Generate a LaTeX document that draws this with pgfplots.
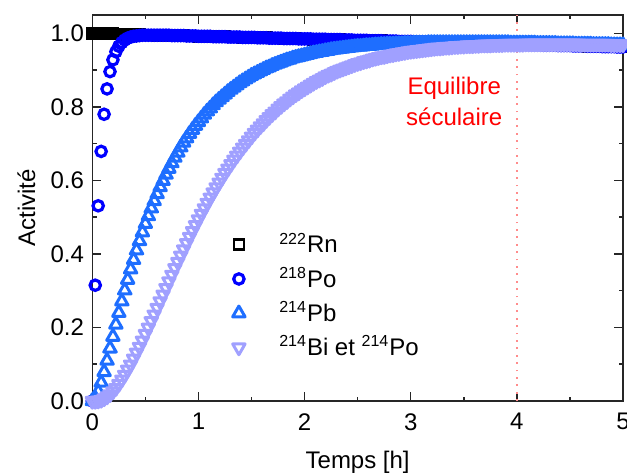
\documentclass[border=0pt]{standalone}
\usepackage{fontspec}
\setmainfont{Liberation Sans}
\usepackage{pgfplots}
\pgfplotsset{compat=1.18}
\usepackage{pgfplotstable}
\definecolor{pocol}{RGB}{0,0,255}
\definecolor{pbcol}{RGB}{30,110,255}
\definecolor{bicol}{RGB}{160,160,255}
\definecolor{eqred}{RGB}{255,0,0}
\pgfplotstableread{
t rn po pb bi
0 1.000 0.000 0.000 0.000
0.0278 1.000 0.315 0.007 0.000
0.0556 1.000 0.531 0.025 0.001
0.0833 0.999 0.679 0.050 0.003
0.1111 0.999 0.780 0.079 0.007
0.1389 0.999 0.849 0.110 0.012
0.1667 0.999 0.896 0.143 0.018
0.1944 0.999 0.928 0.175 0.026
0.2222 0.998 0.950 0.208 0.035
0.2500 0.998 0.965 0.240 0.046
0.2778 0.998 0.975 0.271 0.058
0.3056 0.998 0.982 0.301 0.071
0.3333 0.997 0.987 0.330 0.085
0.3611 0.997 0.990 0.358 0.099
0.3889 0.997 0.992 0.384 0.115
0.4167 0.997 0.993 0.410 0.131
0.4444 0.997 0.994 0.435 0.147
0.4722 0.996 0.995 0.459 0.164
0.5000 0.996 0.995 0.482 0.182
0.5278 0.996 0.995 0.503 0.199
0.5556 0.996 0.995 0.524 0.217
0.5833 0.996 0.995 0.544 0.235
0.6111 0.995 0.995 0.563 0.253
0.6389 0.995 0.995 0.582 0.271
0.6667 0.995 0.995 0.599 0.289
0.6944 0.995 0.995 0.616 0.307
0.7222 0.995 0.995 0.632 0.325
0.7500 0.994 0.994 0.647 0.343
0.7778 0.994 0.994 0.662 0.361
0.8056 0.994 0.994 0.676 0.378
0.8333 0.994 0.994 0.690 0.395
0.8611 0.994 0.994 0.703 0.412
0.8889 0.993 0.993 0.715 0.429
0.9167 0.993 0.993 0.727 0.446
0.9444 0.993 0.993 0.738 0.462
0.9722 0.993 0.993 0.749 0.478
1.0000 0.992 0.992 0.759 0.494
1.0278 0.992 0.992 0.769 0.509
1.0556 0.992 0.992 0.779 0.524
1.0833 0.992 0.992 0.788 0.539
1.1111 0.992 0.992 0.796 0.553
1.1389 0.991 0.991 0.805 0.567
1.1667 0.991 0.991 0.813 0.581
1.1944 0.991 0.991 0.820 0.594
1.2222 0.991 0.991 0.827 0.607
1.2500 0.991 0.991 0.834 0.620
1.2778 0.990 0.990 0.841 0.632
1.3056 0.990 0.990 0.847 0.644
1.3333 0.990 0.990 0.853 0.656
1.3611 0.990 0.990 0.859 0.667
1.3889 0.990 0.990 0.865 0.678
1.4167 0.989 0.989 0.870 0.689
1.4444 0.989 0.989 0.875 0.699
1.4722 0.989 0.989 0.880 0.709
1.5000 0.989 0.989 0.885 0.719
1.5278 0.989 0.989 0.889 0.729
1.5556 0.988 0.988 0.893 0.738
1.5833 0.988 0.988 0.897 0.747
1.6111 0.988 0.988 0.901 0.755
1.6389 0.988 0.988 0.905 0.764
1.6667 0.987 0.987 0.908 0.772
1.6944 0.987 0.987 0.912 0.780
1.7222 0.987 0.987 0.915 0.787
1.7500 0.987 0.987 0.918 0.795
1.7778 0.987 0.987 0.921 0.802
1.8056 0.986 0.986 0.924 0.809
1.8333 0.986 0.986 0.927 0.815
1.8611 0.986 0.986 0.929 0.822
1.8889 0.986 0.986 0.932 0.828
1.9167 0.986 0.986 0.934 0.834
1.9444 0.985 0.985 0.936 0.839
1.9722 0.985 0.985 0.938 0.845
2.0000 0.985 0.985 0.940 0.850
2.0278 0.985 0.985 0.942 0.855
2.0556 0.985 0.985 0.944 0.860
2.0833 0.984 0.984 0.946 0.865
2.1111 0.984 0.984 0.947 0.870
2.1389 0.984 0.984 0.949 0.874
2.1667 0.984 0.984 0.950 0.878
2.1944 0.984 0.984 0.952 0.883
2.2222 0.983 0.983 0.953 0.887
2.2500 0.983 0.983 0.955 0.890
2.2778 0.983 0.983 0.956 0.894
2.3056 0.983 0.983 0.957 0.898
2.3333 0.983 0.983 0.958 0.901
2.3611 0.982 0.982 0.959 0.904
2.3889 0.982 0.982 0.960 0.907
2.4167 0.982 0.982 0.961 0.910
2.4444 0.982 0.982 0.962 0.913
2.4722 0.981 0.981 0.963 0.916
2.5000 0.981 0.981 0.964 0.919
2.5278 0.981 0.981 0.964 0.921
2.5556 0.981 0.981 0.965 0.924
2.5833 0.981 0.981 0.966 0.926
2.6111 0.980 0.980 0.966 0.928
2.6389 0.980 0.980 0.967 0.931
2.6667 0.980 0.980 0.968 0.933
2.6944 0.980 0.980 0.968 0.935
2.7222 0.980 0.980 0.969 0.937
2.7500 0.979 0.979 0.969 0.938
2.7778 0.979 0.979 0.970 0.940
2.8056 0.979 0.979 0.970 0.942
2.8333 0.979 0.979 0.970 0.943
2.8611 0.979 0.979 0.971 0.945
2.8889 0.978 0.978 0.971 0.946
2.9167 0.978 0.978 0.971 0.948
2.9444 0.978 0.978 0.972 0.949
2.9722 0.978 0.978 0.972 0.951
3.0000 0.978 0.978 0.972 0.952
3.0278 0.977 0.977 0.973 0.953
3.0556 0.977 0.977 0.973 0.954
3.0833 0.977 0.977 0.973 0.955
3.1111 0.977 0.977 0.973 0.956
3.1389 0.977 0.977 0.973 0.957
3.1667 0.976 0.976 0.974 0.958
3.1944 0.976 0.976 0.974 0.959
3.2222 0.976 0.976 0.974 0.960
3.2500 0.976 0.976 0.974 0.961
3.2778 0.976 0.976 0.974 0.961
3.3056 0.975 0.975 0.974 0.962
3.3333 0.975 0.975 0.974 0.963
3.3611 0.975 0.975 0.974 0.963
3.3889 0.975 0.975 0.974 0.964
3.4167 0.975 0.975 0.974 0.965
3.4444 0.974 0.974 0.974 0.965
3.4722 0.974 0.974 0.974 0.966
3.5000 0.974 0.974 0.974 0.966
3.5278 0.974 0.974 0.974 0.967
3.5556 0.973 0.973 0.974 0.967
3.5833 0.973 0.973 0.974 0.967
3.6111 0.973 0.973 0.974 0.968
3.6389 0.973 0.973 0.974 0.968
3.6667 0.973 0.973 0.974 0.969
3.6944 0.972 0.972 0.974 0.969
3.7222 0.972 0.972 0.974 0.969
3.7500 0.972 0.972 0.974 0.969
3.7778 0.972 0.972 0.974 0.970
3.8056 0.972 0.972 0.974 0.970
3.8333 0.971 0.971 0.974 0.970
3.8611 0.971 0.971 0.974 0.970
3.8889 0.971 0.971 0.974 0.971
3.9167 0.971 0.971 0.974 0.971
3.9444 0.971 0.971 0.973 0.971
3.9722 0.970 0.970 0.973 0.971
4.0000 0.970 0.970 0.973 0.971
4.0278 0.970 0.970 0.973 0.971
4.0556 0.970 0.970 0.973 0.971
4.0833 0.970 0.970 0.973 0.972
4.1111 0.969 0.969 0.973 0.972
4.1389 0.969 0.969 0.973 0.972
4.1667 0.969 0.969 0.973 0.972
4.1944 0.969 0.969 0.972 0.972
4.2222 0.969 0.969 0.972 0.972
4.2500 0.968 0.968 0.972 0.972
4.2778 0.968 0.968 0.972 0.972
4.3056 0.968 0.968 0.972 0.972
4.3333 0.968 0.968 0.972 0.972
4.3611 0.968 0.968 0.972 0.972
4.3889 0.967 0.967 0.971 0.972
4.4167 0.967 0.967 0.971 0.972
4.4444 0.967 0.967 0.971 0.972
4.4722 0.967 0.967 0.971 0.972
4.5000 0.967 0.967 0.971 0.972
4.5278 0.966 0.966 0.971 0.972
4.5556 0.966 0.966 0.970 0.972
4.5833 0.966 0.966 0.970 0.972
4.6111 0.966 0.966 0.970 0.971
4.6389 0.966 0.966 0.970 0.971
4.6667 0.965 0.965 0.970 0.971
4.6944 0.965 0.965 0.970 0.971
4.7222 0.965 0.965 0.969 0.971
4.7500 0.965 0.965 0.969 0.971
4.7778 0.965 0.965 0.969 0.971
4.8056 0.964 0.964 0.969 0.971
4.8333 0.964 0.964 0.969 0.971
4.8611 0.964 0.964 0.969 0.971
4.8889 0.964 0.964 0.968 0.970
4.9167 0.964 0.964 0.968 0.970
4.9444 0.963 0.963 0.968 0.970
4.9722 0.963 0.963 0.968 0.970
5.0000 0.963 0.963 0.968 0.970
}\decaydata

\begin{document}
\fontsize{12}{14.4}\selectfont
\begin{tikzpicture}
\begin{axis}[
  name=ax,
  scale only axis,
  width=265.35pt, height=193pt,
  xmin=0, xmax=5, ymin=0, ymax=1.05,
  xtick={0,1,2,3,4,5}, minor x tick num=1,
  ytick={0,0.2,0.4,0.6,0.8,1.0}, minor y tick num=1,
  tick align=inside,
  major tick length=4.5pt, minor tick length=2.2pt,
  axis line style={line width=0.75pt, black!85},
  every tick/.style={line width=0.75pt, black!85},
  /pgf/number format/assume math mode=true,
  yticklabel style={/pgf/number format/.cd, fixed, fixed zerofill, precision=1},
  xticklabel style={yshift=-2pt},
  xlabel={Temps [h]}, ylabel={Activité},
  xlabel style={at={(axis description cs:0.5,-0.158)}, anchor=center},
  ylabel style={at={(axis description cs:-0.124,0.5)}, anchor=center},
  legend style={draw=none, fill=none, at={(axis cs:1.16,0.48)}, anchor=north west,
    row sep=1.4pt},
  legend cell align=left,
  legend image code/.code={\path[draw=none,fill=none] (0cm,0cm) -- (0.94cm,0cm); \draw[#1, only marks] plot coordinates {(0.3cm,0cm)};},
]
\draw[eqred!45, line width=1pt, dash pattern=on 0.9pt off 2.8pt] (axis cs:4,0) -- (axis cs:4,1.05);
\addplot[only marks, black, mark=square, mark size=2.5pt, mark options={line width=1.3pt}] table[x=t, y=rn] {\decaydata};
\addlegendentry{\textsuperscript{222}Rn}
\addplot[only marks, pocol, mark=o, mark size=2.6pt, mark options={line width=1.6pt}] table[x=t, y=po] {\decaydata};
\addlegendentry{\textsuperscript{218}Po}
\addplot[only marks, pbcol, mark=triangle, mark size=3.6pt, mark options={line width=1.5pt, line join=round}] table[x=t, y=pb] {\decaydata};
\addlegendentry{\textsuperscript{214}Pb}
\addplot[only marks, bicol, mark=triangle, mark size=3.6pt, mark options={line width=1.5pt, line join=round, rotate=180}] table[x=t, y=bi] {\decaydata};
\addlegendentry{\textsuperscript{214}Bi et \textsuperscript{214}Po}
\node[text=eqred, align=center, font=\fontsize{12}{15.5}\selectfont] at (axis cs:3.41,0.815) {Equilibre\\séculaire};
\end{axis}
\pgfresetboundingbox
\path[use as bounding box] ([shift={(-46.15pt,-37pt)}]ax.south west) rectangle ([shift={(2pt,7.5pt)}]ax.north east);
\end{tikzpicture}
\end{document}
